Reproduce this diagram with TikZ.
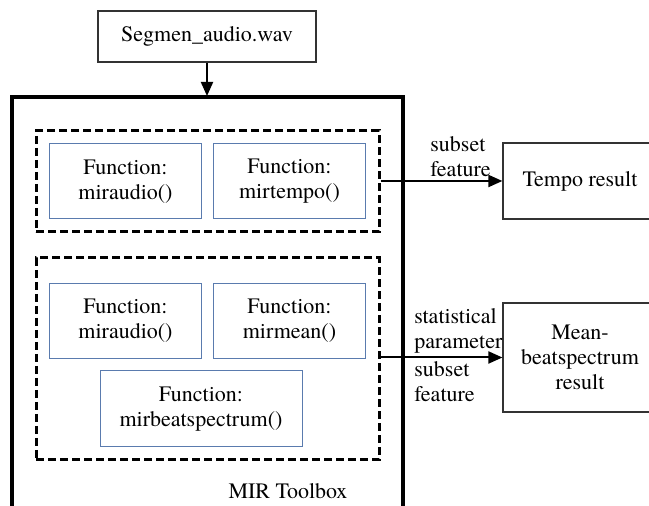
\documentclass[tikz,border=0pt]{standalone}
\usepackage{fontspec}
\setmainfont{texgyretermes}[Extension=.otf, UprightFont=*-regular, BoldFont=*-bold, ItalicFont=*-italic]
\usepackage{xcolor}
\usepackage{tikz}
\usetikzlibrary{arrows.meta,shapes,fit,positioning}

\definecolor{fnblue}{HTML}{5A7BAE}

\begin{document}
\begin{tikzpicture}[x=0.5pt,y=-0.5pt,font=\fontsize{11}{12.6}\selectfont]
		\tikzstyle{filebox}=[draw=black!80, line width=0.6pt, minimum width=109pt, minimum height=25.5pt, inner sep=0pt]
		\tikzstyle{func}=[draw=fnblue, line width=0.5pt, align=center, minimum width=76pt, minimum height=37.5pt, inner sep=0pt]
		\tikzstyle{group}=[draw=black, line width=1.5pt, dash pattern=on 4pt off 2pt, inner sep=0pt]
		\tikzstyle{result}=[draw=black!80, line width=0.6pt, align=center, minimum width=77pt, inner sep=0pt]
		\tikzstyle{link}=[line width=1pt, -{Triangle[length=7pt,width=6pt]}]
		\tikzstyle{link_text}=[align=left, inner sep=0pt]

		\clip (0,0) rectangle (649,506);

		% input file and toolbox frame
		\node [filebox] (wav) at (207,36.5) {Segmen\_audio.wav};
		\draw [line width=1.7pt] (12,560) |- (403,97) -- (403,560);
		\coordinate (tbtop) at (207,96);
		\draw [link] (wav.south) -- (tbtop);
		\node (tblabel) at (288,491) {MIR Toolbox};

		% tempo group
		\node [func] (aud1) at (125.5,181.5) {Function:\\miraudio()};
		\node [func] (tempo) at (289.5,181.5) {Function:\\mirtempo()};
		\node (grp1) [group, fit={(36,131) (379,232)}] {};

		% beatspectrum group
		\node [func] (aud2) at (125.5,321) {Function:\\miraudio()};
		\node [func] (mean) at (289.5,321) {Function:\\mirmean()};
		\node [func, minimum width=101pt, minimum height=38pt] (beat) at (201,409) {Function:\\mirbeatspectrum()};
		\node (grp2) [group, fit={(36,258) (379,460)}] {};

		% results
		\node [result, minimum height=38pt] (tempores) at (580,181) {Tempo result};
		\node [result, minimum height=54.5pt] (meanres) at (580,357.5) {Mean-\\beatspectrum\\result};

		\draw [link] (grp1.east |- tempores.west) -- (tempores.west);
		\draw [link] (grp2.east |- meanres.west) -- (meanres.west);

		\node [link_text, anchor=south west] (lab1) at (430,177) {subset\\feature};
		\node [link_text, anchor=south west] (lab2) at (414,354) {statistical\\parameter};
		\node [link_text, anchor=north west] (lab3) at (414,361) {subset\\feature};
	\end{tikzpicture}
\end{document}
